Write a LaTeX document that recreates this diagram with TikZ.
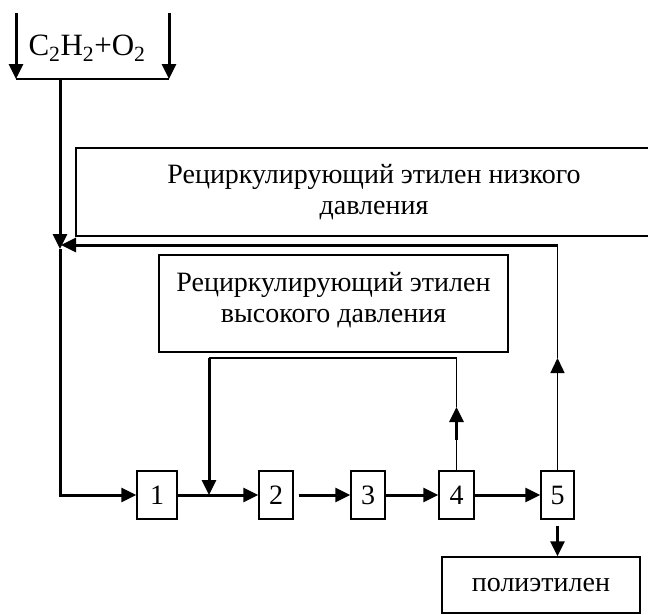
\documentclass[tikz,border=0pt]{standalone}
\usepackage{fontspec}
\setmainfont{Liberation Serif}
\usetikzlibrary{arrows.meta}

\tikzset{
  blk/.style={draw, line width=1.4pt, align=center, inner sep=0pt},
  numbox/.style={blk, minimum height=48pt},
  thk/.style={line width=3pt},
  thn/.style={line width=1.5pt},
  arr/.style={-{Triangle[length=15pt,width=14pt]}},
}

\begin{document}
\begin{tikzpicture}[x=1pt,y=-1pt,font=\fontsize{28}{31}\selectfont]
\useasboundingbox (0,0) rectangle (648,614);
% boxes
\node[blk, minimum width=596pt, minimum height=88pt] (low) at (374,192)
  {Рециркулирующий этилен низкого\\давления};
\node[blk, minimum width=349pt, minimum height=97pt] (high) at (333.5,303.5)
  {Рециркулирующий этилен\\высокого давления\\[-18pt]};
\node[blk, minimum width=198pt, minimum height=56pt] (poly) at (541,585) {полиэтилен};
\foreach \n/\x/\w in {1/157/40,2/276/34,3/368/34,4/456.5/35,5/557.5/33}
  \node[numbox, minimum width=\w pt] (b\n) at (\x,495) {\n};
\node (feed) at (87,48) {\fontsize{31}{34}\selectfont C\textsubscript{2}H\textsubscript{2}+O\textsubscript{2}};
% feed
\coordinate (inL) at (16,13);
\coordinate (inR) at (169,13);
\coordinate (mixL) at (16,79);
\coordinate (mixR) at (169,79);
\draw[thk,arr] (inL) -- (mixL);
\draw[thk,arr] (inR) -- (mixR);
\draw[thn] (mixL) -- (mixR);
\coordinate (mix) at (60,79);
\coordinate (join) at (60,249);
\draw[thk,arr] (mix) -- (join);
\draw[thk,arr] (join) |- (b1.west);
% low pressure recycle
\coordinate (up5) at (b5.north |- 0,358);
\coordinate (turn5) at (b5.north |- 0,245);
\draw[thn,arr] (b5.north) -- (up5);
\draw[thn] (up5) -- (turn5);
\draw[thk,arr] (turn5) -- (61,245);
% high pressure recycle
\coordinate (up4a) at (b4.north |- 0,440);
\coordinate (up4) at (b4.north |- 0,407);
\coordinate (turn4) at (b4.north |- 0,358);
\coordinate (back) at (209,358);
\draw[thn] (b4.north) -- (up4a);
\draw[thk,arr] (up4a) -- (up4);
\draw[thn] (up4) -- (turn4) -- (back);
\draw[thk,arr] (back) -- (back |- b1.east);
% main line
\draw[thk,arr] (b1.east) -- (b2.west);
\draw[thk,arr] ([xshift=5pt]b2.east) -- (b3.west);
\draw[thk,arr] (b3.east) -- (b4.west);
\draw[thk,arr] (b4.east) -- (b5.west);
\draw[thk,arr] ([yshift=-6pt]b5.south) -- (b5.south |- poly.north);
\end{tikzpicture}
\end{document}
